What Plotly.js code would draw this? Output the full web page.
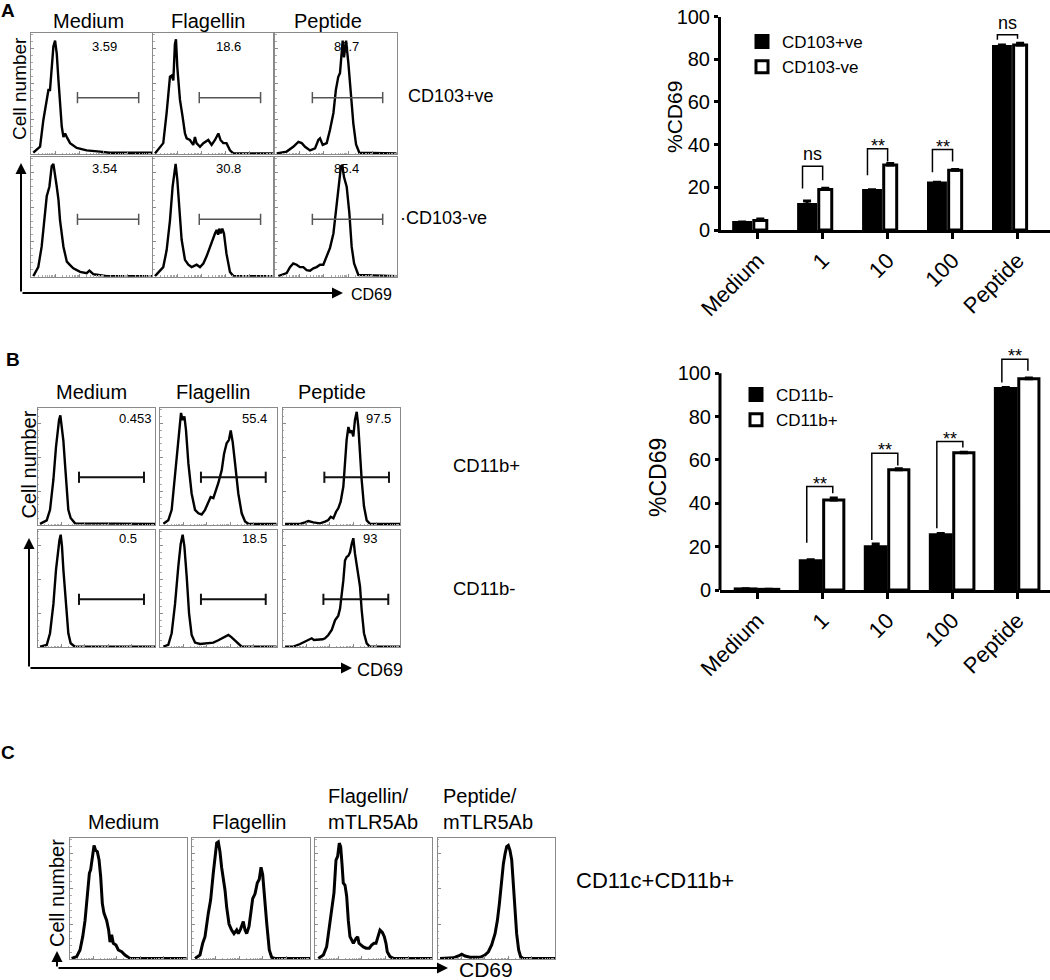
<!DOCTYPE html>
<html><head><meta charset="utf-8">
<script src="https://cdn.plot.ly/plotly-3.0.1.min.js"></script>
<style>html,body{margin:0;padding:0;background:#fff}#chart{width:1050px;height:980px}</style>
</head><body><div id="chart"></div>
<script>
// ---------------- Bar chart data ----------------
const doseCats = ['Medium', '1', '10', '100', 'Peptide'];
const cd103Pos = [3.5, 12, 18.5, 22, 86];
const cd103PosErr = [0.3, 1.6, 0.3, 0.4, 0.6];
const cd103Neg = [4.5, 19, 30.5, 28, 86.7];
const cd103NegErr = [0.6, 0.6, 0.6, 0.3, 0.8];
const sigA = ['', 'ns', '**', '**', 'ns'];
const brkALeft = [null, 19.4, 25.6, 27.1, 89.1];
const brkATop = [null, 29.9, 38, 37.7, 91.5];
const brkARight = [null, 23.3, 32.1, 32.1, 89.6];

const cd11bNeg = [0.5, 13.5, 20, 25.5, 93];
const cd11bNegErr = [0.1, 0.5, 1.2, 0.6, 0.4];
const cd11bPos = [0.3, 41.5, 55.5, 63.3, 97.5];
const cd11bPosErr = [0.1, 1, 0.5, 0.3, 0.3];
const sigB = ['', '**', '**', '**', '**'];
const brkBLeft = [null, 21.8, 23.1, 28.5, 95.7];
const brkBTop = [null, 47.7, 63.1, 68.5, 106.5];
const brkBRight = [null, 44.6, 57.4, 65.8, 101.2];

// ---------------- Histogram data (channel %, count %) ----------------
const aMedPosX = [1.9,7.5,10.2,13,14.4,15.7,17.1,18.5,19.9,21.3,22.7,24,25.4,26.8,28.2,29.6,32.3,37.8,46,57,65,100];
const aMedPosY = [1.1,6,28,44,53,53,72,89,94,83,61,39,23,14,17,14,9,5,3,2,1,1];
const aFlaPosX = [1.4,8.3,11.1,13.9,15.3,16.7,18,18.9,20,22.2,24.4,26.4,27.8,30.5,33.3,34.7,36,38.9,41.7,45.8,48.6,51.4,54.2,56,58.3,61,63.9,66.7,100];
const aFlaPosY = [0.5,9,34,64,65,61,91,95,72,45,31,17,13,11.6,7.5,14,9,6,9,11.6,7.5,11.6,17,11.6,9,9,3,0.5,0.5];
const aPepPosX = [1.4,9.6,15,19.2,22,24.7,28.8,32.9,35.6,37,39.2,42.5,45.2,48,50,52,53.4,54.8,55.6,56.7,58.4,60.3,62.2,64.4,66.6,69.3,100];
const aPepPosY = [0.5,2,6,10,9,6,3,4.7,11.6,13,7.5,9,20,34,53,64,67,82,94,80,94,75,50,25,8,1,0.5];
const aMedNegX = [1.9,6,8.8,11.6,13,15.2,17.1,18.5,19.9,21.3,22.7,24,26.8,29.6,32.3,35,40.6,46,48.3,51.7,62.7,100];
const aMedNegY = [0.5,8,25,53,67,75,92,94,86,75,64,47,25,12.5,9.7,7,4,3,5,2,0.5,0.5];
const aFlaNegX = [1.4,8.3,11.1,13.9,16.1,17.2,18.6,20,21.7,23.6,26.4,29.2,32,36.1,38.9,41.7,44.4,47.2,49.4,51.4,52.8,54,55,56.2,57.5,58.9,61,63.9,66.7,100];
const aFlaNegY = [0.5,8,22,47,75,86,94,81,53,31,14,10,8,10,8,11,17,25,31,36,39,35,40,36,40,36,19,4,0.5,0.5];
const aPepNegX = [2.7,9.6,12.3,15,17.8,20.5,23.3,26,28.8,31.5,34.2,37,39.7,42.5,45.2,48,50.7,52.9,54.2,55.3,56.7,58.9,61.1,63,65,68.5,100];
const aPepNegY = [0.5,3,8,11,10,8,8,5.5,5,7,8,10,10,17,24,36,61,81,92,93,83,75,53,25,11,1.4,0.5];

const bMedPosX = [2,7.7,10.5,13.4,15.6,16.8,18.2,19.3,20.5,21.9,23.3,24.7,26.1,28.1,31.8,100];
const bMedPosY = [1,4,13,39,67,79,90,94,84,72,52,30,13,6,1.4,1];
const bFlaPosX = [2.9,7.1,10,12,14.3,16.6,18,19.4,20.9,22.3,24.3,27.1,30,32.9,35.7,38.6,41.4,43.4,45.7,48,50,52.9,54.9,57.1,59.1,60.6,62.3,64.3,67.1,70,72.9,75.7,100];
const bFlaPosY = [1,4,13,33,56,81,96,90,93,81,53,27,13,10,9,13,20,24,23,30,36,47,61,70,73,81,71,53,27,10,3,1,1];
const bPepPosX = [2,14.8,19,21.9,26.1,31.8,36.1,38.9,40.9,43.2,45.5,47.4,49.4,51.7,53.1,54.5,56,57.4,58.8,60.2,61.6,63.1,64.5,65.9,67.3,69.3,71.6,74.4,100];
const bPepPosY = [1,1,2.3,3.4,2.3,1.4,2.9,4.3,7,5.7,11.4,14.3,20,33,53,73,84,79,81,76,90,97,84,61,39,16,4,1,1];
const bMedNegX = [2,7.7,10.5,13.4,15.6,17,18.5,19.6,20.7,21.9,23.3,24.7,26.1,28.1,31.8,100];
const bMedNegY = [0.5,2,12,37,66,80,91,96,86,66,46,26,12,3.4,0.5,0.5];
const bFlaNegX = [2.9,7.1,10,12.9,15.7,17.7,19.4,20.9,22.9,24.9,27.1,30,34.3,40,45.7,50,52.9,55.7,58.6,61.4,64.3,67.1,70,100];
const bFlaNegY = [0.5,2,12,37,69,88,96,86,60,29,10.5,4,2.8,3.4,4,6,7.7,9,10.5,8.5,6,3.4,0.5,0.5];
const bPepNegX = [2,9.1,14.8,19,21.9,24.7,26.7,30.4,34.1,36.1,38.9,41.8,43.2,44.6,46,47.4,48.9,50.3,51.7,53.1,54.5,56,57.4,58.8,60.2,61.6,63.1,64.5,65.9,67.3,69.3,71.6,74.4,100];
const bPepNegY = [0.5,0.5,2.8,4.8,5.7,7.7,6.3,6.3,6.8,7.7,10.5,14.8,19,23,25,27,33,43,57,74,77,78,81,88,93,80,71,60,52,32,12,3.4,0.5,0.5];

const cMedX = [1.4,5.7,8.6,10.9,12.9,14.9,16.6,17.7,19.1,20.6,22,23.4,24.9,26.3,27.7,29.1,31.4,33.1,34.3,35.7,37.1,39.4,41.4,44.3,47.1,51.4,100];
const cMedY = [0.5,2,7.5,18.5,32,51,71,74,85,94,90,89,82,68,46,38,32,24,14,20,13,11.6,7.5,6,3.3,0.5,0.5];
const cFlaX = [2.3,6.5,8.8,10.8,13.6,15.6,17.8,19.5,20.7,22.1,23.5,24.9,26.3,27.8,29.2,31.2,33.4,35.4,37.7,39.1,41.1,43.3,44.8,46.2,48.2,49.6,51.3,53.3,55.2,56.9,58.4,59.8,61.2,63.2,65.4,67.4,70.3,100];
const cFlaY = [0.5,3.3,13,18.5,38,49,71,88,96,97,89,76,68,57,43,29,24,21,24,21,25,31,24,21,27,38,50,54,63,66,76,70,52,30,7.5,1.4,0.5,0.5];
const cFlaAbX = [2.8,7.1,9.9,12.8,14.2,16.2,17.9,19.3,20.7,21.9,23,24.1,25.6,27,28.4,29.8,31.3,32.7,35,36.4,37.5,38.9,41.2,43.5,46.3,48.3,50.3,52,54,55.4,57.4,59.1,60.5,61.6,63.9,66.8,100];
const cFlaAbY = [0.5,3.3,10,30,41,55,82,85,96,93,79,63,61,52,32,18.5,15.7,13,17,18.5,13,11.6,10,9,9,11.6,13,13,20,24,22,18.5,13,6,2,0.5,0.5];
const cPepAbX = [2,13.4,17.6,20.5,23.3,27.6,36.1,40.3,43.2,46,48.9,50.9,52.6,54.5,56,57.4,58.8,60.2,61.6,63.1,64.5,65.9,67.3,69,70.7,73,100];
const cPepAbY = [0.5,1,2.5,3.9,2.5,1.4,1.4,3.3,6,11.6,21,32,46,65,79,87,93,94,90,82,63,41,21,7.5,1.9,0.5,0.5];

const pctA = ['3.59', '18.6', '86.7', '3.54', '30.8', '85.4'];
const pctB = ['0.453', '55.4', '97.5', '0.5', '18.5', '93'];
const gateLoA = [38.4, 38.3, 30.7, 38.4, 38.3, 30.7];
const gateHiA = [89, 89.4, 88.5, 89, 89.4, 88.5];
const gateLoB = [35.2, 35.1, 35.5, 35.2, 35.1, 34.7];
const gateHiB = [90.6, 90.6, 90.6, 90.6, 90.6, 90];

const colTitlesAB = ['Medium', 'Flagellin', 'Peptide'];
const rowLabelsA = ['CD103+ve', '\u00b7CD103-ve'];
const rowLabelsB = ['CD11b+', 'CD11b-'];
const colTitlesC = ['Medium', 'Flagellin', 'Flagellin/<br>mTLR5Ab', 'Peptide/<br>mTLR5Ab'];
const rowLabelC = 'CD11c+CD11b+';

// ---------------- Layout helpers ----------------
const W = 1050, H = 980;
const px = x => x / W, py = y => 1 - y / H;
const FONT = '"Liberation Sans", Arial, Helvetica, sans-serif';
const NARROW = '"Liberation Sans Narrow", "Liberation Sans", Arial, sans-serif';

const traces = [];
const annotations = [];
const shapes = [];
const layout = {
  width: W, height: H, margin: {l: 0, r: 0, t: 0, b: 0},
  paper_bgcolor: '#fff', plot_bgcolor: 'rgba(0,0,0,0)',
  font: {family: FONT, color: '#000'},
  barmode: 'overlay', showlegend: true, hovermode: false
};

// log-style minor ticks for histogram channel axes
const minorLog = [];
for (let k = 0; k < 5; k++) for (let m = 2; m <= 9; m++) minorLog.push(20 * k + 20 * Math.log10(m));

function txt(x, y, text, size, opts) {
  annotations.push(Object.assign({
    xref: 'paper', yref: 'paper', x: px(x), y: py(y), text: text, showarrow: false,
    xanchor: 'center', yanchor: 'middle', font: {size: size, family: FONT, color: '#000'}
  }, opts || {}));
}
function arrow(x0, y0, x1, y1) {
  annotations.push({xref: 'paper', yref: 'paper', x: px(x1), y: py(y1), ax: x0 - x1, ay: y0 - y1,
    axref: 'pixel', ayref: 'pixel', text: '', showarrow: true, arrowhead: 2, arrowsize: 1.1,
    arrowwidth: 2, arrowcolor: '#000', standoff: 0, startstandoff: 0});
}

let axN = 3;
function hist(xs, ys, box, lw, opt) {
  const k = axN++;
  layout['xaxis' + k] = {domain: [px(box[0]), px(box[1])], range: [0, 100], anchor: 'y' + k,
    showline: true, mirror: true, linecolor: '#8a8a8a', linewidth: 1, ticks: 'inside', ticklen: 3,
    tickcolor: '#8a8a8a', tickwidth: 1, tickvals: [0, 20, 40, 60, 80], showticklabels: false,
    showgrid: false, zeroline: false, fixedrange: true,
    minor: {ticks: 'inside', ticklen: 1.5, tickcolor: '#aaa', tickvals: minorLog, showgrid: false}};
  layout['yaxis' + k] = {domain: [py(box[3]), py(box[2])], range: [0, 100], anchor: 'x' + k,
    showline: true, mirror: true, linecolor: '#8a8a8a', linewidth: 1, ticks: 'inside', ticklen: 3,
    tickcolor: '#8a8a8a', tickvals: [0, 29, 58, 87], showticklabels: false, showgrid: false,
    zeroline: false, fixedrange: true,
    minor: {ticks: 'inside', ticklen: 1.5, tickcolor: '#aaa', dtick: 5.8, showgrid: false}};
  traces.push({type: 'scatter', mode: 'lines', x: xs, y: ys, xaxis: 'x' + k, yaxis: 'y' + k,
    line: {color: '#000', width: lw}, showlegend: false, hoverinfo: 'skip'});
  if (opt) {
    traces.push({type: 'scatter', mode: 'lines+markers', x: [opt.lo, opt.hi], y: [opt.lvl, opt.lvl],
      xaxis: 'x' + k, yaxis: 'y' + k, line: {color: opt.col, width: opt.gw},
      marker: {symbol: 'line-ns', size: 8, line: {color: opt.col, width: opt.gw}},
      showlegend: false, hoverinfo: 'skip', cliponaxis: false});
    annotations.push({xref: 'x' + k, yref: 'y' + k, x: opt.tx, y: opt.ty, text: opt.pct,
      showarrow: false, xanchor: opt.anchor, yanchor: 'middle', font: {size: opt.fs, color: '#000'}});
  }
}

// ---------------- Panel A histograms ----------------
const colsA = [[31, 152], [153.3, 273.3], [275, 396.7]];
const rowsA = [[33.3, 154], [156.7, 276.7]];
const dataA = [[aMedPosX, aMedPosY], [aFlaPosX, aFlaPosY], [aPepPosX, aPepPosY],
               [aMedNegX, aMedNegY], [aFlaNegX, aFlaNegY], [aPepNegX, aPepNegY]];
const pctPosA = [61, 62.5, 59];
dataA.forEach((d, i) => {
  const r = Math.floor(i / 3), c = i % 3;
  hist(d[0], d[1], [colsA[c][0], colsA[c][1], rowsA[r][0], rowsA[r][1]], 2.4,
    {lo: gateLoA[i], hi: gateHiA[i], lvl: r === 0 ? 46.7 : 47.8, col: '#555', gw: 1.5,
     pct: pctA[i], tx: pctPosA[c], ty: r === 0 ? 89 : 90, anchor: 'center', fs: 13});
});
// ---------------- Panel B histograms ----------------
const colsB = [[37.7, 155], [160, 276.7], [282.7, 400]];
const rowsB = [[408.3, 525], [530, 647.3]];
const dataB = [[bMedPosX, bMedPosY], [bFlaPosX, bFlaPosY], [bPepPosX, bPepPosY],
               [bMedNegX, bMedNegY], [bFlaNegX, bFlaNegY], [bPepNegX, bPepNegY]];
const pctPosB = [99, 93, 94, 86, 93, 82];
dataB.forEach((d, i) => {
  const r = Math.floor(i / 3), c = i % 3;
  hist(d[0], d[1], [colsB[c][0], colsB[c][1], rowsB[r][0], rowsB[r][1]], 2.4,
    {lo: gateLoB[i], hi: gateHiB[i], lvl: 40.9, col: '#111', gw: 2,
     pct: pctB[i], tx: pctPosB[i], ty: r === 0 ? 91 : 93, anchor: 'right', fs: 13});
});
// ---------------- Panel C histograms ----------------
const colsC = [[70, 186.7], [192.3, 310], [315, 432.3], [437.7, 555]];
const dataC = [[cMedX, cMedY], [cFlaX, cFlaY], [cFlaAbX, cFlaAbY], [cPepAbX, cPepAbY]];
dataC.forEach((d, i) => hist(d[0], d[1], [colsC[i][0], colsC[i][1], 838.3, 959], 3, null));

// ---------------- Bar charts ----------------
const idx = doseCats.map((_, i) => i);
function barAxes(xName, yName, xdom, xr, ydom, yr, showY) {
  layout[xName] = {domain: xdom, range: xr, anchor: yName.replace('axis', ''), tickvals: idx, ticktext: doseCats,
    tickangle: -45, ticks: 'outside', ticklen: 6, tickwidth: 3, tickcolor: '#000', showline: true,
    linewidth: 3, linecolor: '#000', showgrid: false, zeroline: false, tickfont: {size: 22}, fixedrange: true};
  layout[yName] = {domain: ydom, range: yr, anchor: xName.replace('axis', ''), tickvals: [0, 20, 40, 60, 80, 100],
    ticks: 'outside', ticklen: 4, tickwidth: 3, tickcolor: '#000', showline: showY, linewidth: 3,
    linecolor: '#000', showgrid: false, zeroline: false, tickfont: {size: 20}, fixedrange: true};
}
barAxes('xaxis', 'yaxis', [px(721), 1], [-0.565, 4.5], [py(230), py(16.5)], [0, 100], true);
barAxes('xaxis2', 'yaxis2', [px(720), 1], [-0.574, 4.5], [py(590), py(351.6)], [0, 110], false);
shapes.push({type: 'line', xref: 'x2 domain', yref: 'y2', x0: 0, x1: 0, y0: 0, y1: 100,
  line: {color: '#000', width: 3}});

function barPair(xa, ya, leg, v1, e1, n1, v2, e2, n2, off1, w1, off2, w2) {
  const zeros = v1.map(() => 0);
  traces.push({type: 'bar', x: idx, y: v1, name: n1, xaxis: xa, yaxis: ya, legend: leg,
    offset: off1, width: w1, marker: {color: '#000', line: {color: '#000', width: 3}},
    error_y: {type: 'data', array: e1, arrayminus: zeros, symmetric: false, visible: true,
      color: '#000', thickness: 3, width: 4}});
  traces.push({type: 'bar', x: idx, y: v2, name: n2, xaxis: xa, yaxis: ya, legend: leg,
    offset: off2, width: w2, marker: {color: '#fff', line: {color: '#000', width: 3}},
    error_y: {type: 'data', array: e2, arrayminus: zeros, symmetric: false, visible: true,
      color: '#000', thickness: 3, width: 4}});
}
barPair('x', 'y', 'legend', cd103Pos, cd103PosErr, 'CD103+ve', cd103Neg, cd103NegErr, 'CD103-ve',
  -0.37, 0.26, -0.06, 0.2);
barPair('x2', 'y2', 'legend2', cd11bNeg, cd11bNegErr, 'CD11b-', cd11bPos, cd11bPosErr, 'CD11b+',
  -0.34, 0.32, 0.02, 0.31);

function brackets(xa, ya, sig, lo, top, ro, l, r) {
  sig.forEach((s, i) => {
    if (!s) return;
    traces.push({type: 'scatter', mode: 'lines', x: [i + l, i + l, i + r, i + r],
      y: [lo[i], top[i], top[i], ro[i]], xaxis: xa, yaxis: ya, line: {color: '#000', width: 1.5},
      showlegend: false, hoverinfo: 'skip'});
    annotations.push({xref: xa, yref: ya, x: i + (l + r) / 2, y: top[i], text: s, showarrow: false,
      yanchor: 'bottom', xanchor: 'center', yshift: s === '**' ? -9 : 0, font: {size: 18, color: '#000'}});
  });
}
brackets('x', 'y', sigA, brkALeft, brkATop, brkARight, -0.31, 0);
brackets('x2', 'y2', sigB, brkBLeft, brkBTop, brkBRight, -0.24, 0.16);

layout.legend = {x: px(742), y: py(24), xanchor: 'left', yanchor: 'top', font: {size: 17},
  bgcolor: 'rgba(0,0,0,0)', traceorder: 'normal', tracegroupgap: 0};
layout.legend2 = {x: px(736), y: py(377), xanchor: 'left', yanchor: 'top', font: {size: 17},
  bgcolor: 'rgba(0,0,0,0)', traceorder: 'normal', tracegroupgap: 0};

// ---------------- Text labels ----------------
txt(8, 10, '<b>A</b>', 19);
txt(13, 360, '<b>B</b>', 19);
txt(8, 752, '<b>C</b>', 19);
[88, 208, 328].forEach((x, i) => txt(x, 21, colTitlesAB[i], 20));
[91, 213, 332].forEach((x, i) => txt(x, 392, colTitlesAB[i], 20));
txt(123, 822, colTitlesC[0], 20);
txt(249, 822, colTitlesC[1], 20);
txt(326, 808.5, colTitlesC[2], 20, {xanchor: 'left', align: 'left'});
txt(441, 808.5, colTitlesC[3], 20, {xanchor: 'left', align: 'left'});
txt(406, 96, rowLabelsA[0], 18, {xanchor: 'left'});
txt(398, 218, rowLabelsA[1], 18, {xanchor: 'left'});
txt(451, 466, rowLabelsB[0], 18.5, {xanchor: 'left'});
txt(451, 588, rowLabelsB[1], 18.5, {xanchor: 'left'});
txt(574, 880, rowLabelC, 22, {xanchor: 'left'});
txt(20, 89, 'Cell number', 19, {textangle: -90});
txt(28.5, 465, 'Cell number', 20, {textangle: -90});
txt(57, 893, 'Cell number', 20, {textangle: -90});
txt(371, 294, 'CD69', 16, {font: {size: 16, family: NARROW, color: '#000'}});
txt(380, 670, 'CD69', 18, {font: {size: 18, family: NARROW, color: '#000'}});
txt(457, 969, 'CD69', 21, {xanchor: 'left'});
txt(675, 117, '%CD69', 21, {textangle: -90});
txt(658, 478, '%CD69', 23, {textangle: -90});

arrow(21, 293, 21, 163);
arrow(21, 293, 343, 293);
arrow(29, 668, 29, 538);
arrow(29, 668, 352, 668);
arrow(57, 968, 57, 951);
arrow(57, 968, 448, 968);

layout.annotations = annotations;
layout.shapes = shapes;

Plotly.newPlot('chart', traces, layout, {staticPlot: true, displayModeBar: false});
</script>
</body></html>
